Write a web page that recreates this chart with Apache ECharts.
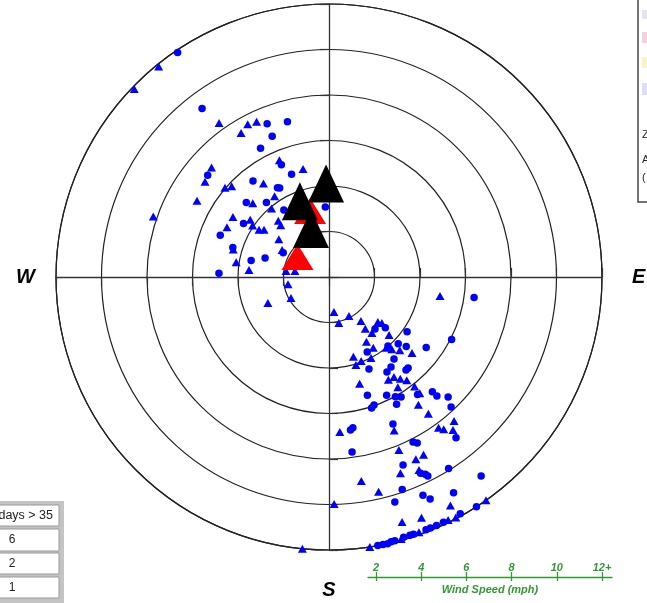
<!DOCTYPE html>
<html><head><meta charset="utf-8">
<script src="https://cdn.jsdelivr.net/npm/echarts@6/dist/echarts.min.js"></script>
<style>html,body{margin:0;padding:0;background:#fff}#c{width:647px;height:603px}</style>
</head><body><div id="c"></div><script>
// Compass point labels on the angle axis (degrees clockwise from north)
const compassLabels = {0: 'N', 90: 'E', 180: 'S', 270: 'W'};
// Wind speed scale (mph)
const speedTicks = [2, 4, 6, 8, 10, 12];
const speedTickLabels = ['2', '4', '6', '8', '10', '12+'];
const speedTitle = 'Wind Speed (mph)';

// Observations as [speed mph, direction deg]
const dotObs = [
  [11.9,326],[9.27,323],[7.26,338],[7.06,345],[6.67,338],[6.41,332],[5.36,337],[4.81,340],
  [6.96,310],[5.38,321.6],[4.53,330],[4.47,331],[4.89,312],[4.28,320],[3.55,326],[4.43,302],
  [5.12,291],[4.42,287],[2.28,298],[2.93,286.5],[3.50,282],[4.84,272],[3.08,357],
  [3.05,138.5],[3.33,132],[4.19,125],[6.44,98],[6.05,117],[3.70,153],[3.99,139.5],[4.23,134],
  [4.57,132],[5.28,126],[4.60,141.6],[4.41,156.5],[4.89,148.6],[4.80,145.4],[5.31,140.4],[5.30,139],
  [5.46,162],[5.78,154],[6.02,151],[6.15,149],[6.47,143],[6.79,138],[7.06,137.8],[7.43,135.2],
  [7.84,136.8],[6.06,162],[5.96,160.6],[6.33,152],[6.79,172],[6.71,171],[7.05,156.5],[9.01,141.7],
  [7.76,172.5],[8.14,153],[8.26,152],[8.88,158.5],[9.52,155],[9.65,154],[9.77,153.6],[9.92,148],
  [11.01,142.6],[9.88,161],[10.31,163.7],[10.44,156.7],[10.72,155.5],[10.95,150],
  [12,169.7],[12,168.6],[11.95,166],[11.9,162.6],[11.9,159],[11.9,158],[11.9,156.6],[11.9,151],
  [12,147.3],[12,167.6],[11.9,164],[11.9,161.8],[11.9,155],[11.95,166.8]
];
const triangleObs = [
  [11.9,321],[11.9,314],[8.32,324.5],[7.61,332],[7.53,335],[7.42,328.6],[5.58,337],[4.88,346.5],
  [7.06,313],[6.87,307.5],[6.02,310.6],[5.85,313],[5.02,325],[4.28,326],[6.70,300],[4.66,314],
  [3.93,320],[8.17,289],[4.98,302],[4.99,296],[4.28,306],[4.05,304],[3.71,304],[3.53,306],
  [3.33,318],[3.11,317],[4.38,286],[2.76,307],[2.38,300],[4.13,279],[3.53,275],[1.91,278],
  [1.52,280],[1.83,260],[1.91,241],[2.92,247],
  [1.55,172],[2.07,168],[1.93,153],[2.39,144],[2.78,145],[2.92,132.6],[3.08,131],[3.10,142.5],
  [3.67,134],[4.95,99.7],[3.29,150],[3.67,148],[4.00,141],[4.21,139],[4.48,136],[4.95,132.5],
  [3.67,163],[4.05,163],[3.95,159],[4.01,152.6],[5.22,150],[5.24,147],[5.46,145],[5.68,143],
  [4.88,164],[5.71,148],[6.11,142],[6.48,142],[6.85,145],[7.43,144],[6.83,176],[7.33,157],
  [8.19,144],[8.38,143],[8.38,139],[8.66,141],[8.20,158],[8.87,154.5],[8.85,152],[9.18,160],
  [9.36,155],[9.08,171],[9.69,167],[11.37,152],[9.98,178.7],[11.24,163.4],[11.34,159],
  [12,171.4],[11.95,164.6],[11.9,160.6],[11.9,153.9],[11.95,152.2],[12,144.9],[12,185.6]
];
// Exceedance events
const highObs = [[1.64,302.4],[3.02,344]];
const peakObs = [[4.11,358.2],[3.57,339],[2.25,339.4]];

// Exceedance table
const tableHeader = 'days > 35';
const tableCounts = ['6', '2', '1'];

const CX = 329, CY = 277, R = 273;
const ringColor = '#222';
const green = '#339933';
const FONT = '"Liberation Sans", Arial, sans-serif';

const chart = echarts.init(document.getElementById('c'), null, {renderer: 'canvas'});

// Four overlapping polar systems: each draws one arm of the cross with its ticks
const armAngles = [90, 0, 270, 180];
const polar = armAngles.map(() => ({center: [CX, CY], radius: R}));
const compassText = {fontFamily: FONT, fontSize: 20, fontWeight: 'bold', fontStyle: 'italic', color: '#000'};
const angleAxis = armAngles.map((a, i) => ({
  polarIndex: i, type: 'value', min: 0, max: 360, interval: 90,
  startAngle: a, clockwise: true,
  show: i === 0,
  axisLine: {show: i === 0, lineStyle: {color: ringColor, width: 1.2}},
  axisTick: {show: false},
  splitLine: {show: false},
  axisLabel: {
    show: i === 0, margin: 21,
    formatter: v => {
      const t = compassLabels[v % 360] || '';
      return t ? '{' + t + '|' + t + '}' : '';
    },
    ...compassText,
    rich: {
      N: {...compassText},
      W: {...compassText},
      E: {...compassText, padding: [0, 0, 0, 9]},
      S: {...compassText, padding: [9, 0, 0, 0]}
    }
  }
}));
const radiusAxis = armAngles.map((a, i) => ({
  polarIndex: i, type: 'value', min: 0, max: 12, interval: 2,
  axisLine: {show: true, lineStyle: {color: '#333', width: 1.3}},
  axisTick: {show: true, length: 9, lineStyle: {color: '#333', width: 1.2}},
  axisLabel: {show: false},
  splitLine: {show: i === 0, lineStyle: {color: ringColor, width: 1.2}},
  z: 1
}));

const blue = '#0000ff';
const series = [
  {type: 'scatter', coordinateSystem: 'polar', polarIndex: 0, symbol: 'circle', symbolSize: 7.5,
   itemStyle: {color: blue, opacity: 1}, data: dotObs, z: 3, silent: true},
  {type: 'scatter', coordinateSystem: 'polar', polarIndex: 0, symbol: 'triangle', symbolSize: [9, 8],
   itemStyle: {color: blue, opacity: 1}, data: triangleObs, z: 3, silent: true},
  {type: 'scatter', coordinateSystem: 'polar', polarIndex: 0, symbol: 'triangle', symbolSize: [32, 26],
   itemStyle: {color: '#ff0000', opacity: 1}, data: highObs, z: 4, silent: true},
  {type: 'scatter', coordinateSystem: 'polar', polarIndex: 0, symbol: 'triangle', symbolSize: [36, 38],
   itemStyle: {color: '#000', opacity: 1}, data: peakObs, z: 5, silent: true}
];

// Wind speed scale: two grids share one line, ticks above and below it
const scaleMin = 2 - 8 / 22.6, scaleMax = 12 + 10 / 22.6;
const grid = [
  {left: 368, width: 244, top: 540, height: 37},
  {left: 368, width: 244, top: 540, height: 37}
];
const xAxis = [
  {gridIndex: 0, type: 'value', min: scaleMin, max: scaleMax, position: 'bottom',
   axisLine: {show: true, lineStyle: {color: green, width: 1.3}},
   axisTick: {show: true, inside: true, length: 5, customValues: speedTicks, lineStyle: {color: green, width: 1.3}},
   axisLabel: {show: true, inside: true, margin: 4, customValues: speedTicks,
     formatter: v => speedTickLabels[speedTicks.indexOf(Math.round(v))] || '',
     color: green, fontFamily: FONT, fontSize: 11, fontWeight: 'bold', fontStyle: 'italic'},
   splitLine: {show: false}},
  {gridIndex: 1, type: 'value', min: scaleMin, max: scaleMax, position: 'bottom',
   axisLine: {show: false},
   axisTick: {show: true, inside: false, length: 4, customValues: speedTicks, lineStyle: {color: green, width: 1.3}},
   axisLabel: {show: false},
   splitLine: {show: false},
   name: speedTitle, nameLocation: 'middle', nameGap: 7,
   nameTextStyle: {color: green, fontFamily: FONT, fontSize: 11, fontWeight: 'bold', fontStyle: 'italic'}}
];
const yAxis = [
  {gridIndex: 0, type: 'value', show: false, min: 0, max: 1},
  {gridIndex: 1, type: 'value', show: false, min: 0, max: 1}
];

// Exceedance table (bottom left) and legend box (top right) as graphics
const cellRows = [[505, 526], [529, 551], [553, 574], [577, 598]];
const graphic = [
  {type: 'rect', shape: {x: -10, y: 501, width: 74, height: 110}, style: {fill: '#c4c4c4'}, z: 10},
  ...cellRows.map(([y0, y1]) => ({type: 'rect', shape: {x: -10, y: y0, width: 69, height: y1 - y0},
    style: {fill: '#fff', stroke: '#9a9a9a', lineWidth: 1}, z: 11})),
  {type: 'text', x: 53, y: 516, z: 12,
   style: {text: tableHeader, textAlign: 'right', textVerticalAlign: 'middle', font: '12.5px ' + FONT, fill: '#222'}},
  ...tableCounts.map((t, i) => ({type: 'text', x: 12, y: (cellRows[i + 1][0] + cellRows[i + 1][1]) / 2, z: 12,
    style: {text: t, textAlign: 'center', textVerticalAlign: 'middle', font: '12px ' + FONT, fill: '#222'}})),
  {type: 'rect', shape: {x: 638, y: -3, width: 30, height: 205}, style: {fill: '#fff', stroke: '#444', lineWidth: 1.5}, z: 10},
  {type: 'rect', shape: {x: 642, y: 10, width: 6, height: 9}, style: {fill: '#e4e4ec'}, z: 11},
  {type: 'rect', shape: {x: 642, y: 32, width: 6, height: 11}, style: {fill: '#f6cfe0'}, z: 11},
  {type: 'rect', shape: {x: 642, y: 57, width: 6, height: 11}, style: {fill: '#f8f6c0'}, z: 11},
  {type: 'rect', shape: {x: 642, y: 83, width: 6, height: 12}, style: {fill: '#dcdcf8'}, z: 11},
  {type: 'text', x: 642, y: 135, z: 11, style: {text: 'Z', textVerticalAlign: 'middle', font: '11px ' + FONT, fill: '#222'}},
  {type: 'text', x: 642, y: 160, z: 11, style: {text: 'A', textVerticalAlign: 'middle', font: '11px ' + FONT, fill: '#222'}},
  {type: 'text', x: 642, y: 178, z: 11, style: {text: '(', textVerticalAlign: 'middle', font: '11px ' + FONT, fill: '#222'}}
];

chart.setOption({
  animation: false,
  backgroundColor: '#fff',
  polar, angleAxis, radiusAxis, grid, xAxis, yAxis, series, graphic
});
</script></body></html>
